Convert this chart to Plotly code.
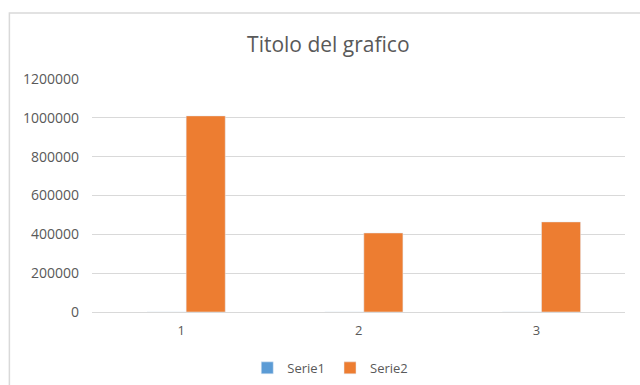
import plotly.graph_objects as go

categories = ["1", "2", "3"]
serie1 = [0, 0, 0]
serie2 = [1010000, 407000, 464000]
y_ticks = [0, 200000, 400000, 600000, 800000, 1000000, 1200000]

FONT = "Open Sans"
GRAY = "#595959"

fig = go.Figure()
fig.add_bar(name="Serie1", x=categories, y=serie1, marker_color="#5B9BD5")
fig.add_bar(name="Serie2", x=categories, y=serie2, marker_color="#ED7D31")

fig.update_layout(
    width=640, height=385,
    margin=dict(l=92, r=15, t=79, b=73, autoexpand=False),
    paper_bgcolor="white", plot_bgcolor="white",
    barmode="group", bargap=0.56, bargroupgap=0,
    font=dict(family=FONT, color=GRAY, size=12),
    title=dict(text="Titolo del grafico", x=0.513, xanchor="center", y=0.885, yanchor="middle",
               font=dict(family=FONT, size=21, color=GRAY)),
    showlegend=True,
    legend=dict(orientation="h", x=0.447, xanchor="center", y=-0.24, yanchor="middle",
                font=dict(family=FONT, size=13, color=GRAY), traceorder="normal"),
    xaxis=dict(range=[-0.53, 2.47], showgrid=False, showline=True, linecolor="#d9d9d9", linewidth=1,
               ticks="", ticklabelshift=-5, ticklabelstandoff=6,
               tickfont=dict(size=13, color=GRAY)),
    yaxis=dict(range=[0, 1200000], tickvals=y_ticks, ticktext=[str(v) for v in y_ticks],
               showgrid=True, gridcolor="#d9d9d9", gridwidth=1, zeroline=False,
               showline=False, ticks="", ticklabelstandoff=12,
               tickfont=dict(size=14, color=GRAY)),
    shapes=[dict(type="rect", xref="paper", yref="paper", x0=-0.155, x1=1.3, y0=-0.6, y1=1.283,
                 line=dict(color="#d9d9d9", width=1.5), fillcolor="rgba(0,0,0,0)", layer="below")],
)

fig.write_html("out.html")
